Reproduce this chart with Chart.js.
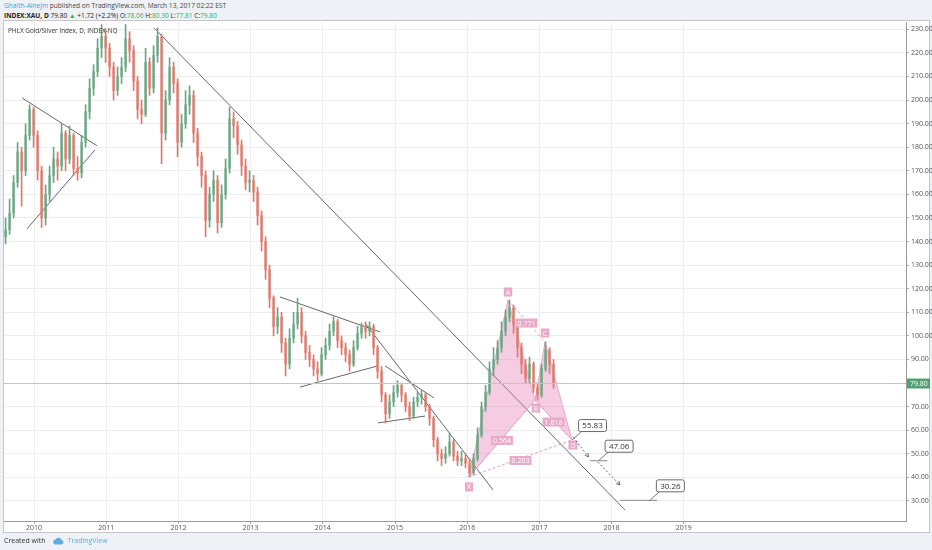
<!DOCTYPE html>
<html>
<head>
<meta charset="utf-8">
<script src="https://cdn.jsdelivr.net/npm/chart.js@4.4.1/dist/chart.umd.min.js"></script>
<style>
html, body { margin: 0; padding: 0; }
body { width: 932px; height: 550px; background: #eef2f6; font-family: "Open Sans", sans-serif; position: relative; overflow: hidden; }
#hdr1 { position: absolute; left: 4px; top: 1px; font-size: 6.6px; color: #444; white-space: nowrap; }
#hdr2 { position: absolute; left: 4px; top: 11px; font-size: 6.6px; color: #222; white-space: nowrap; }
#hdr1 .user { color: #3d9fdc; }
#hdr2 b { font-weight: 700; }
#hdr2 .g { color: #3ea864; }
#panel { position: absolute; left: 3px; top: 20px; width: 925px; height: 511px; background: #fff; border: 1px solid #c6c6c6; }
#chart { position: absolute; left: 0; top: 0; }
#title { position: absolute; left: 8px; top: 26px; font-size: 6.4px; color: #333; }
#foot { position: absolute; left: 4px; top: 536px; font-size: 7px; color: #333; display: flex; align-items: center; }
#foot .tv { color: #5aaee3; margin-left: 4px; }
#foot svg { margin-left: 6px; }
</style>
</head>
<body>
<div id="hdr1"><span class="user">Ghaith-Alnejm</span> published on TradingView.com, March 13, 2017 02:22 EST</div>
<div id="hdr2"><b>INDEX:XAU, D</b> 79.80 <span class="g">▲</span> +1.72 (+2.2%) O:<span class="g">78.06</span> H:<span class="g">80.30</span> L:<span class="g">77.81</span> C:<span class="g">79.80</span></div>
<div id="panel"></div>
<canvas id="chart" width="932" height="550"></canvas>
<div id="title">PHLX Gold/Silver Index, D, INDEX-NQ</div>
<div id="foot">Created with
  <svg width="12" height="8" viewBox="0 0 12 8"><path d="M3 7.5 H9.5 A2.3 2.3 0 0 0 9.6 3 A3.2 3.2 0 0 0 3.6 2.6 A2.5 2.5 0 0 0 3 7.5 Z" fill="#5aaee3"/></svg>
  <span class="tv">TradingView</span></div>
<script>
// candles, one every ~20 days
const firstCandle = 2009.606;
const candleStep = 0.0554;

const opens = [
  142,145,152,165,178,170,185,196,185,170,
  150,160,168,175,172,186,175,185,171,169,
  182,195,205,212,222,227,222,214,204,210,
  214,226,221,208,196,194,216,205,219,227,
  186,200,214,207,182,190,198,202,186,176,
  168,149,160,166,148,160,171,192,189,181,
  172,165,166,161,151,140,128,116,104,108,
  97,88,99,105,110,100,93,90,86,84,
  92,96,102,106,98,95,92,88,95,101,
  104,102,104,95,85,75,67,72,76,79,
  75,70,66,72,74,75,70,65,56,50,
  48,50,55,49,47,48,46,42,48,58,
  70,76,86,90,95,102,108,112,105,95,
  88,82,88,78,75,86,94,88
];
const highs = [
  150,158,168,182,180,190,198,197,187,172,
  164,172,180,178,190,187,189,186,176,185,
  198,209,215,226,232,230,224,216,214,218,
  232,229,223,210,200,222,218,223,230.6,228,
  204,218,216,209,194,204,206,204,188,178,
  170,163,170,168,164,175,197,195,191,183,
  175,170,168,163,153,142,130,117,112,110,
  99,103,110,116,112,102,96,92,89,95,
  99,105,108,107,100,97,94,98,104,105.5,
  106,106,105,96,87,76,75,79,81,80,
  76,72,74,76,77,76,71,66,57,52,
  53,58.8,56,51,51,50,48,50,61,72,
  79,89,95,98,106,111,115.2,113,106,97,
  90,91,89,80,88,97.4,95,90
];
const lows = [
  139,143,150,163,155,168,183,180,166,146,
  147,157,165,166,170,170,173,168,166,167,
  180,192,202,210,218,216,210,200,202,207,
  212,216,204,192,190,193,202,203,216,173,
  183,198,203,176,180,188,194,182,172,163,
  142,146,157,143.6,146,158,169,184,177,168,
  162,161,157,147,136,124,112,100,101,93,
  83,86,97,103,97,90,87,83,81,83,
  90,94,100,95,92,89,85,87,94,99,
  99,100,92,82,72,63,65,70,74,72,
  68,64,65,70,71,68,62,53,47,45,
  46,49,47,45,45,44,40.2,41,47,57,
  68,75,83,88,93,100,106,101,91,84,
  80,80,76,72.8,74,85,84,77.8
];
const closes = [
  145,152,165,178,170,185,196,185,170,150,
  160,168,175,172,186,175,185,171,169,182,
  195,205,212,222,227,222,214,204,210,214,
  226,221,208,196,194,216,205,219,227,186,
  200,214,207,182,190,198,202,186,176,168,
  149,160,166,148,160,171,192,189,181,172,
  165,166,161,151,140,128,116,104,108,97,
  88,99,105,110,100,93,90,86,84,92,
  96,102,106,98,95,92,88,95,101,104,
  102,104,95,85,75,67,72,76,79,75,
  70,66,72,74,75,70,65,56,50,48,
  50,55,49,47,48,46,42,48,58,70,
  76,86,90,95,102,108,112,105,95,88,
  82,88,78,75,86,94,88,79.8
];
const lastPrice = 79.80;

const yearTicks = [2010, 2011, 2012, 2013, 2014, 2015, 2016, 2017, 2018, 2019];
const priceTicks = [30, 40, 50, 60, 70, 80, 90, 100, 110, 120, 130, 140, 150, 160, 170, 180, 190, 200, 210, 220, 230];

// hand-drawn trend lines: [[year, price], [year, price]]
const trendLines = [
  [[2009.834, 200.9], [2010.873, 180.6]],
  [[2009.903, 145.4], [2010.845, 178.9]],
  [[2011.662, 230.6], [2018.186, 26.2]],
  [[2013.407, 116.5], [2014.792, 101.7]],
  [[2013.684, 78.3], [2014.765, 87.3]],
  [[2014.584, 105.5], [2016.357, 34.7]],
  [[2014.861, 87.3], [2015.540, 73.7]],
  [[2014.765, 63.1], [2015.416, 66.0]]
];

// XABCD pattern
const patternNames = ['X', 'A', 'B', 'C', 'D'];
const patternYears = [2016.025, 2016.565, 2016.939, 2017.078, 2017.452];
const patternPrices = [40.2, 115.2, 72.8, 97.4, 55.83];
const ratioLabels = ['0.771', '0.564', '1.618', '0.203'];
const ratioLegs = [[1, 3], [0, 2], [2, 4], [0, 4]];

// targets
const targetLabels = ['55.83', '47.06', '30.26'];
const targetYears = [2017.452, 2017.82, 2018.53];
const targetPrices = [55.83, 47.06, 30.26];
const levelLines = [[2017.70, 2017.94, 47.06], [2018.116, 2018.629, 30.26]];
const arrows = [[2017.47, 57.0, 2017.68, 48.7], [2017.81, 46.5, 2018.116, 36.8]];

const upColor = '#6aa684';
const downColor = '#dd7a6c';
const candleDates = closes.map((c, i) => firstCandle + i * candleStep);
const candleColors = closes.map((c, i) => c >= opens[i] ? upColor : downColor);

const xMin = 2009.584, xMax = 2022.078;
const yMin = 21.5, yMax = 233.1;

const lineSet = (pts, color, extra) => Object.assign({
  type: 'line',
  data: pts.map(p => ({ x: p[0], y: p[1] })),
  borderColor: color,
  borderWidth: 1,
  pointRadius: 0,
  fill: false,
  tension: 0
}, extra || {});

const pick = idx => idx.map(i => [patternYears[i], patternPrices[i]]);

const datasets = [
  lineSet([[xMin, lastPrice], [xMax, lastPrice]], '#c4c4c4'),
  {
    type: 'bar',
    data: candleDates.map((d, i) => ({ x: d, y: [lows[i], highs[i]] })),
    backgroundColor: candleColors,
    barThickness: 1,
    grouped: false,
    borderWidth: 0
  },
  {
    type: 'bar',
    data: candleDates.map((d, i) => ({ x: d, y: [opens[i], closes[i]] })),
    backgroundColor: candleColors,
    barThickness: 1.6,
    grouped: false,
    borderWidth: 0
  },
  lineSet(pick([0, 1, 2, 0]), '#e7a6c7', { fill: 'shape', backgroundColor: 'rgba(230,120,175,0.38)' }),
  lineSet(pick([2, 3, 4, 2]), '#e7a6c7', { fill: 'shape', backgroundColor: 'rgba(230,120,175,0.38)' })
];
ratioLegs.forEach(l => datasets.push(lineSet(pick(l), 'rgba(220,130,175,0.75)', { borderDash: [3, 2] })));
trendLines.forEach(t => datasets.push(lineSet(t, '#666666')));
levelLines.forEach(l => datasets.push(lineSet([[l[0], l[2]], [l[1], l[2]]], '#8a8a8a')));

const pinkTag = (ctx, text, cx, cy) => {
  ctx.font = '7px "Open Sans"';
  const w = ctx.measureText(text).width + 4;
  ctx.fillStyle = '#eaa9c9';
  ctx.fillRect(cx - w / 2, cy - 4.5, w, 9);
  ctx.fillStyle = '#ffffff';
  ctx.textAlign = 'center';
  ctx.textBaseline = 'middle';
  ctx.fillText(text, cx, cy + 0.5);
};

const annotate = {
  id: 'annotate',
  afterDatasetsDraw(chart) {
    const { ctx, scales: { x, y } } = chart;
    const px = v => x.getPixelForValue(v);
    const py = v => y.getPixelForValue(v);
    ctx.save();

    // ratio labels on leg midpoints
    ratioLegs.forEach((l, i) => {
      const mx = (px(patternYears[l[0]]) + px(patternYears[l[1]])) / 2;
      const my = (py(patternPrices[l[0]]) + py(patternPrices[l[1]])) / 2;
      pinkTag(ctx, ratioLabels[i], mx, my + 2);
    });
    // point names
    const off = [[0, 10], [0, -8], [1, 8], [0, -9], [1, 5]];
    patternNames.forEach((n, i) => pinkTag(ctx, n, px(patternYears[i]) + off[i][0], py(patternPrices[i]) + off[i][1]));

    // dashed arrows
    ctx.strokeStyle = '#666';
    ctx.lineWidth = 1;
    arrows.forEach(a => {
      const x1 = px(a[0]), y1 = py(a[1]), x2 = px(a[2]), y2 = py(a[3]);
      ctx.setLineDash([2, 2]);
      ctx.beginPath(); ctx.moveTo(x1, y1); ctx.lineTo(x2, y2); ctx.stroke();
      ctx.setLineDash([]);
      const ang = Math.atan2(y2 - y1, x2 - x1);
      ctx.beginPath();
      ctx.moveTo(x2, y2);
      ctx.lineTo(x2 - 4 * Math.cos(ang - 0.5), y2 - 4 * Math.sin(ang - 0.5));
      ctx.moveTo(x2, y2);
      ctx.lineTo(x2 - 4 * Math.cos(ang + 0.5), y2 - 4 * Math.sin(ang + 0.5));
      ctx.stroke();
    });

    // target callouts
    ctx.font = '8px "Open Sans"';
    targetLabels.forEach((t, i) => {
      const ax = px(targetYears[i]), ay = py(targetPrices[i]);
      const bx = ax + 6, by = ay - 21, bw = 28, bh = 12;
      ctx.strokeStyle = '#777';
      ctx.beginPath(); ctx.moveTo(ax, ay); ctx.lineTo(bx + 4, by + bh); ctx.stroke();
      ctx.fillStyle = '#fff';
      ctx.strokeStyle = '#6a6a6a';
      ctx.beginPath();
      ctx.roundRect(bx + 0.5, by + 0.5, bw, bh, 2);
      ctx.fill(); ctx.stroke();
      ctx.fillStyle = '#333';
      ctx.textAlign = 'center';
      ctx.textBaseline = 'middle';
      ctx.fillText(t, bx + bw / 2 + 0.5, by + bh / 2 + 1);
    });
    ctx.restore();
  },
  afterDraw(chart) {
    const { ctx, chartArea, scales: { y } } = chart;
    const yy = y.getPixelForValue(lastPrice);
    ctx.save();
    ctx.fillStyle = '#53a072';
    ctx.fillRect(chartArea.right + 1, yy - 5, 23, 10);
    ctx.fillStyle = '#fff';
    ctx.font = '7px "Open Sans"';
    ctx.textAlign = 'left';
    ctx.textBaseline = 'middle';
    ctx.fillText(lastPrice.toFixed(2), chartArea.right + 4, yy + 0.5);
    ctx.restore();
  }
};

new Chart(document.getElementById('chart'), {
  type: 'bar',
  data: { datasets: datasets },
  plugins: [annotate],
  options: {
    responsive: false,
    animation: false,
    layout: { padding: { left: 4, top: 22, right: 0, bottom: 17 } },
    plugins: { legend: { display: false }, tooltip: { enabled: false } },
    scales: {
      x: {
        type: 'linear',
        min: xMin,
        max: xMax,
        offset: false,
        afterBuildTicks: s => { s.ticks = yearTicks.map(v => ({ value: v })); },
        afterFit: s => { s.height = 12; },
        ticks: { callback: v => String(v), font: { size: 7, family: 'Open Sans' }, color: '#555', maxRotation: 0, autoSkip: false, padding: 0 },
        grid: { color: '#eeeeee', offset: false, tickLength: 3, tickColor: '#aaa' },
        border: { color: '#9a9a9a' }
      },
      y: {
        position: 'right',
        min: yMin,
        max: yMax,
        afterBuildTicks: s => { s.ticks = priceTicks.map(v => ({ value: v })); },
        afterFit: s => { s.width = 26; },
        ticks: { callback: v => v.toFixed(2), font: { size: 7, family: 'Open Sans' }, color: '#555', padding: 2 },
        grid: { color: '#eeeeee', tickLength: 3, tickColor: '#aaa' },
        border: { color: '#9a9a9a' }
      }
    }
  }
});
</script>
</body>
</html>
